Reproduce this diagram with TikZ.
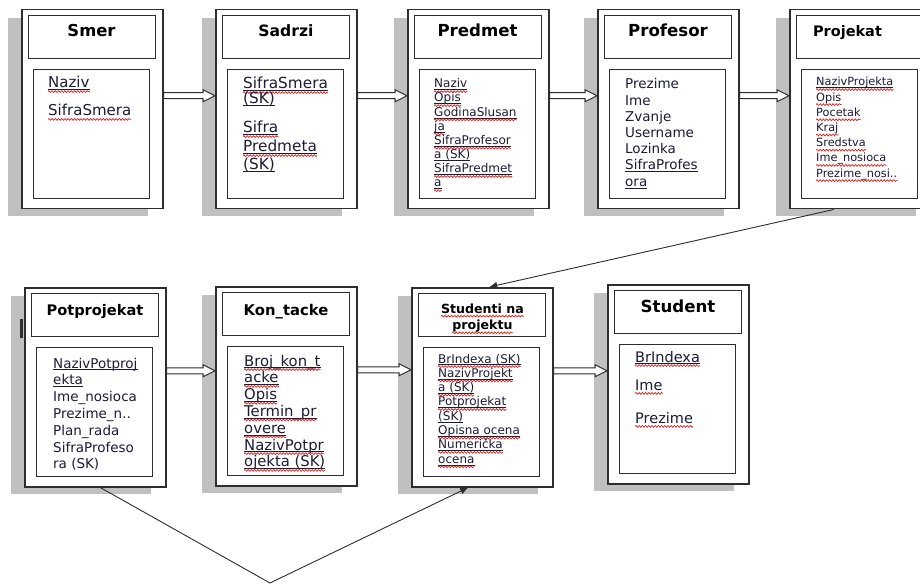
\documentclass[tikz,border=0pt]{standalone}
\usepackage{fontspec}
\setmainfont{DejaVu Sans}
\usetikzlibrary{calc,arrows.meta,decorations.pathmorphing}
\definecolor{shadowc}{HTML}{C0C0C0}
\definecolor{linec}{HTML}{2E2E2E}
\definecolor{txtc}{HTML}{1C1C38}
\definecolor{wavec}{HTML}{E0201C}
\newcommand\fldfont{\fontsize{13}{15}\selectfont}
\newcommand\setfs[1]{\renewcommand\fldfont{\fontsize{#1}{#1}\selectfont}}
\newcommand\fldn[4]{\node[fld] (#1) at (#2,#3) {#4};}
\newcommand\fldu[4]{\fldn{#1}{#2}{#3}{#4}\draw[uline] ([yshift=-1.8pt]#1.base west) -- ([yshift=-1.8pt]#1.base east);}
\newcommand\fldw[4]{\fldn{#1}{#2}{#3}{#4}\draw[wline] ([yshift=-3.4pt]#1.base west) -- ([yshift=-3.4pt]#1.base east);}
\newcommand\flduw[4]{\fldu{#1}{#2}{#3}{#4}\draw[wline] ([yshift=-3.6pt]#1.base west) -- ([yshift=-3.6pt]#1.base east);}
\newcommand\entity[3]{%
  \fill[shadowc] (#2-13,#3+9) rectangle (#2+127,#3+207);
  \node[outerbox] (#1) at (#2,#3) {};
  \node[titlebox] (#1-t) at (#2+7,#3+6) {};
  \node[attrbox] (#1-a) at (#2+12,#3+60) {};
}
\tikzset{
  outerbox/.style={draw=linec, line width=1.5pt, fill=white, minimum width=141pt, minimum height=199pt, inner sep=0pt, anchor=north west},
  titlebox/.style={draw=linec, line width=1.3pt, minimum width=127pt, minimum height=43pt, inner sep=0pt, anchor=north west},
  attrbox/.style={draw=linec, line width=1.3pt, minimum width=116pt, minimum height=129pt, inner sep=0pt, anchor=north west},
  ttl/.style={anchor=base, inner sep=0pt, text=black},
  fld/.style={anchor=base west, inner sep=0pt, text=txtc, font=\fldfont},
  uline/.style={draw=txtc, line width=0.8pt},
  wline/.style={draw=wavec, line width=0.7pt, decorate, decoration={snake, segment length=3.2pt, amplitude=0.9pt}},
  blockarr/.style={draw=linec, fill=white, line width=1pt, line join=miter, to path={
    let \p1=(\tikztostart), \p2=(\tikztotarget) in
    (\x1,\y1+3pt) -- (\x2-12pt,\y1+3pt) -- (\x2-12pt,\y1+6pt) -- (\x2,\y1) -- (\x2-12pt,\y1-6pt) -- (\x2-12pt,\y1-3pt) -- (\x1,\y1-3pt) -- cycle}},
  conn/.style={draw=linec, line width=0.9pt},
}
\begin{document}
\begin{tikzpicture}[x=1pt,y=-1pt]
\useasboundingbox (0,0) rectangle (920,585);
\clip (0,0) rectangle (920,585);
\fill[white] (0,0) rectangle (920,585);

% ---------- top row ----------
\entity{smer}{21}{9}
\entity{sadrzi}{215}{9}
\entity{predmet}{407}{9}
\entity{profesor}{597}{9}
\entity{projekat}{789}{9}
% ---------- bottom row ----------
\entity{potprojekat}{24}{287}
\entity{kontacke}{215}{286}
\entity{studenti}{411}{287}
\entity{student}{607}{284}

\fill[linec] (20,319) rectangle (23,338);

% titles
\node[ttl, font={\fontsize{16.4}{18}\selectfont\bfseries}] (smer-tt) at (91.5,37) {Smer};
\node[ttl, font={\fontsize{15.6}{18}\selectfont\bfseries}] (sadrzi-tt) at (286,37) {Sadrzi};
\node[ttl, font={\fontsize{16.6}{18}\selectfont\bfseries}] (predmet-tt) at (477.5,37) {Predmet};
\node[ttl, font={\fontsize{16.6}{18}\selectfont\bfseries}] (profesor-tt) at (668,37) {Profesor};
\node[ttl, font={\fontsize{14.5}{18}\selectfont\bfseries}] (projekat-tt) at (847.5,37) {Projekat};
\node[ttl, font={\fontsize{14.6}{18}\selectfont\bfseries}] (potprojekat-tt) at (95,315) {Potprojekat};
\node[ttl, font={\fontsize{14.8}{18}\selectfont\bfseries}] (kontacke-tt) at (286,315) {Kon\_tacke};
\node[ttl, font={\fontsize{12.6}{14}\selectfont\bfseries}] (studenti-tt1) at (482.5,313) {Studenti na};
\node[ttl, font={\fontsize{12.6}{14}\selectfont\bfseries}] (studenti-tt2) at (482.5,329) {projektu};
\draw[wline] ([yshift=-3.2pt]studenti-tt1.base west) -- ([yshift=-3.2pt]studenti-tt1.base east);
\draw[wline] ([yshift=-3.8pt]studenti-tt2.base west) -- ([yshift=-3.8pt]studenti-tt2.base east);
\node[ttl, font={\fontsize{16.6}{18}\selectfont\bfseries}] (student-tt) at (678,312) {Student};

% fields: Smer
\setfs{15}
\flduw{f11}{48}{88}{Naziv}
\fldw{f12}{48}{116}{SifraSmera}
% Sadrzi
\setfs{15.3}
\flduw{f21}{243}{89}{SifraSmera}
\fldu{f22}{243}{104}{(SK)}
\flduw{f23}{243}{133}{Sifra}
\flduw{f24}{243}{152}{Predmeta}
\fldu{f25}{243}{170}{(SK)}
% Predmet
\setfs{12}
\flduw{f31}{434}{88}{Naziv}
\flduw{f32}{434}{102}{Opis}
\flduw{f33}{434}{116.3}{GodinaSlusan}
\flduw{f34}{434}{130.4}{ja}
\flduw{f35}{434}{144.6}{SifraProfesor}
\fldu{f36}{434}{158.7}{a (SK)}
\flduw{f37}{434}{172.9}{SifraPredmet}
\flduw{f38}{434}{187}{a}
% Profesor
\setfs{13.5}
\fldn{f41}{625}{89}{Prezime}
\fldn{f42}{625}{105.2}{Ime}
\fldn{f43}{625}{121.4}{Zvanje}
\fldn{f44}{625}{137.6}{Username}
\fldn{f45}{625}{153.8}{Lozinka}
\fldu{f46}{625}{170}{SifraProfes}
\fldu{f47}{625}{186.2}{ora}
% Projekat
\setfs{11.3}
\flduw{f51}{816}{86}{NazivProjekta}
\fldw{f52}{816}{101.2}{Opis}
\fldw{f53}{816}{116.4}{Pocetak}
\fldw{f54}{816}{131.6}{Kraj}
\fldw{f55}{816}{146.8}{Sredstva}
\fldw{f56}{816}{162}{Ime\_nosioca}
\fldw{f57}{816}{177.2}{Prezime\_nosi..}
% Potprojekat
\setfs{13.5}
\fldu{f61}{53}{368}{NazivPotproj}
\fldu{f62}{53}{384.8}{ekta}
\fldn{f63}{53}{401.6}{Ime\_nosioca}
\fldn{f64}{53}{418.4}{Prezime\_n..}
\fldn{f65}{53}{435.2}{Plan\_rada}
\fldn{f66}{53}{452}{SifraProfeso}
\fldn{f67}{53}{468.8}{ra (SK)}
% Kon_tacke
\setfs{14.8}
\flduw{f71}{244}{366}{Broj\_kon\_t}
\flduw{f72}{244}{382.8}{acke}
\flduw{f73}{244}{399.6}{Opis}
\flduw{f74}{244}{416.4}{Termin\_pr}
\flduw{f75}{244}{433.2}{overe}
\flduw{f76}{244}{450}{NazivPotpr}
\flduw{f77}{244}{466.8}{ojekta (SK)}
% Studenti na projektu
\setfs{12}
\flduw{f81}{438}{363}{BrIndexa (SK)}
\flduw{f82}{438}{377.3}{NazivProjekt}
\flduw{f83}{438}{391.6}{a (SK)}
\flduw{f84}{438}{405.9}{Potprojekat}
\fldu{f85}{438}{420.2}{(SK)}
\flduw{f86}{438}{434.5}{Opisna ocena}
\flduw{f87}{438}{448.8}{Numerička}
\flduw{f88}{438}{463.1}{ocena}
% Student
\setfs{14.5}
\flduw{f91}{635}{362}{BrIndexa}
\fldw{f92}{635}{390}{Ime}
\fldw{f93}{635}{423}{Prezime}

% block arrows
\draw[blockarr] ([yshift=13.5pt]smer.east) to ([yshift=13.5pt]sadrzi.west);
\draw[blockarr] ([yshift=13.5pt]sadrzi.east) to ([yshift=13.5pt]predmet.west);
\draw[blockarr] ([yshift=13.5pt]predmet.east) to ([yshift=13.5pt]profesor.west);
\draw[blockarr] ([yshift=13.5pt]profesor.east) to ([yshift=13.5pt]projekat.west);
\draw[blockarr] ([yshift=16.5pt]potprojekat.east) to ([yshift=16.5pt]kontacke.west);
\draw[blockarr] ([yshift=16.5pt]kontacke.east) to ([yshift=16.5pt]studenti.west);
\draw[blockarr] ([yshift=16.5pt]studenti.east) to ([yshift=16.5pt]student.west);

% connectors
\draw[conn, -{Latex[length=8pt,width=7pt]}] ([xshift=-26.5pt]projekat.south) -- ([xshift=7pt]studenti.north);
\coordinate (v) at (270,583);
\draw[conn, -{Latex[length=8pt,width=7pt]}] ([xshift=5pt]potprojekat.south) -- (v) -- ([xshift=-14pt]studenti.south);
\end{tikzpicture}
\end{document}
